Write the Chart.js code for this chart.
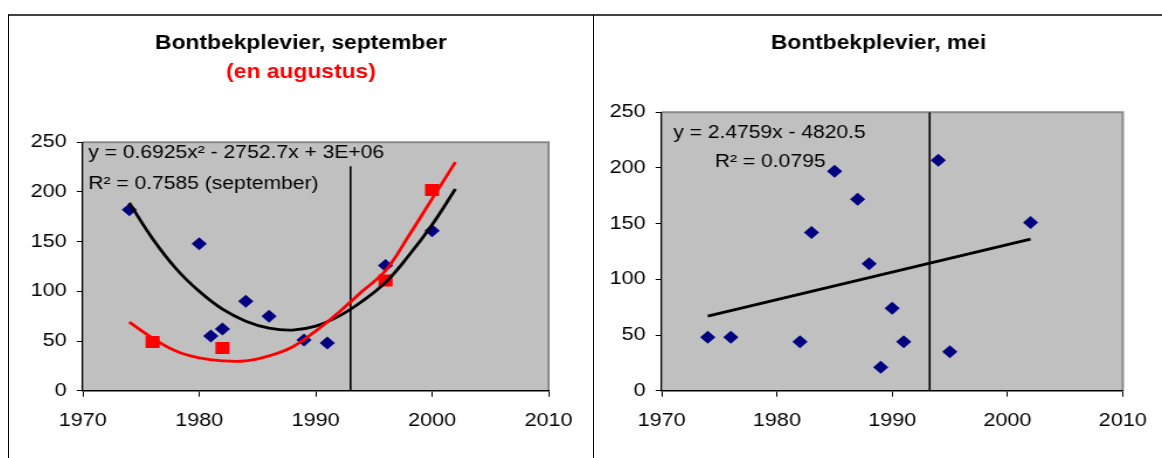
<!DOCTYPE html>
<html>
<head>
<meta charset="utf-8">
<script src="https://cdn.jsdelivr.net/npm/chart.js@4.4.1/dist/chart.umd.min.js"></script>
<style>
  html, body { margin: 0; padding: 0; background: #fff; }
  body { width: 1162px; height: 458px; position: relative; overflow: hidden; }
  .rule-top { position: absolute; left: 8px; top: 14px; width: 1154px; height: 2px; background: #404040; }
  .rule-v { position: absolute; top: 15px; width: 1px; height: 443px; background: #000; }
  canvas { position: absolute; top: 17px; }
</style>
</head>
<body>
<div class="rule-top"></div>
<div class="rule-v" style="left:8px"></div>
<div class="rule-v" style="left:593px"></div>
<!-- drawn narrow and widened by css, like the Excel export -->
<canvas id="sepChart" width="499" height="441" style="left:9px;width:584px;height:441px"></canvas>
<canvas id="meiChart" width="485" height="441" style="left:595px;width:567px;height:441px"></canvas>
<script>
// September counts (blue diamonds) and August counts (red squares)
const sepYears  = [1974, 1980, 1981, 1982, 1984, 1986, 1989, 1991, 1996, 2000];
const sepCounts = [182, 148, 55, 62, 90, 75, 51, 48, 126, 161];
const augYears  = [1976, 1982, 1996, 2000];
const augCounts = [49, 43, 111, 202];

// polynomial trendlines, sampled along the curves
const curveYears = [1974, 1976, 1978, 1980, 1982, 1984, 1986, 1988, 1990, 1992, 1994, 1996, 1998, 2000, 2002];
const sepTrend   = [189, 153, 123, 100, 82, 70, 63, 61, 65, 75, 90, 109, 136, 167, 203];
const augTrend   = [69, 53, 40, 33, 30, 30, 35, 44, 60, 79, 100, 121, 156, 193, 230];

// May counts
const meiYears  = [1974, 1976, 1982, 1983, 1985, 1987, 1988, 1989, 1990, 1991, 1994, 1995, 2002];
const meiCounts = [48, 48, 44, 142, 197, 172, 114, 21, 74, 44, 207, 35, 151];
const meiTrendYears = [1974, 2002];
const meiTrend      = [66.9, 136.2];

// vertical marker lines
const sepMarkerYear = 1993;
const sepMarkerTop  = 226;
const meiMarkerYear = 1993.25;
const meiMarkerTop  = 250;

const sepEquation = ['y = 0.6925x\u00B2 - 2752.7x + 3E+06', 'R\u00B2 = 0.7585 (september)'];
const meiEquation = ['y = 2.4759x - 4820.5', 'R\u00B2 = 0.0795'];

const FONT = "'Liberation Sans', Arial, sans-serif";
Chart.defaults.font.family = FONT;
Chart.defaults.color = '#000';

const pts = (xs, ys) => xs.map((x, i) => ({ x, y: ys[i] }));

const plotBackground = {
    id: 'plotBackground',
    beforeDraw(chart) {
        const { ctx, chartArea: a } = chart;
        ctx.save();
        ctx.fillStyle = '#c0c0c0';
        ctx.fillRect(a.left, a.top, a.width, a.height);
        ctx.strokeStyle = '#8a8a8a';
        ctx.lineWidth = 2;
        ctx.beginPath();
        ctx.moveTo(a.left, a.top);
        ctx.lineTo(a.right, a.top);
        ctx.lineTo(a.right, a.bottom);
        ctx.stroke();
        ctx.restore();
    },
};

const equationText = {
    id: 'equationText',
    afterDatasetsDraw(chart, args, opts) {
        const { ctx, chartArea: a } = chart;
        ctx.save();
        ctx.font = `18px ${FONT}`;
        ctx.fillStyle = '#000';
        ctx.textBaseline = 'alphabetic';
        opts.lines.forEach(l => ctx.fillText(l.text, a.left + l.dx, a.top + l.dy));
        ctx.restore();
    },
};

// yWidth: room for the tick labels; rightGap: empty strip right of the plot
function axes(yWidth, rightGap) {
    return {
        x: {
            type: 'linear', min: 1970, max: 2010,
            ticks: { stepSize: 10, font: { size: 18.5 }, padding: 13, maxRotation: 0, callback: v => String(v) },
            grid: { drawOnChartArea: false, tickLength: 6, tickColor: '#000', tickWidth: 1 },
            border: { color: '#000', width: 1.5 },
            afterFit: s => { s.height = 67.3; },
        },
        y: {
            min: 0, max: 250,
            ticks: { stepSize: 50, font: { size: 18.5 }, padding: 8.5 },
            grid: { drawOnChartArea: false, tickLength: 5.1, tickColor: '#000', tickWidth: 1 },
            border: { color: '#000', width: 1.3 },
            afterFit: s => { s.width = yWidth; },
        },
        gap: {
            position: 'right', min: 0, max: 1,
            ticks: { display: false },
            grid: { display: false },
            border: { display: false },
            afterFit: s => { s.width = rightGap; },
        },
    };
}

function trend(data, color, width) {
    return { data, showLine: true, borderColor: color, borderWidth: width, pointRadius: 0, tension: 0.4 };
}

function marks(data, style, radius, color) {
    return { data, pointStyle: style, pointRadius: radius, backgroundColor: color, borderColor: color, borderWidth: 0 };
}

const titleFont = { size: 19.5, weight: 'bold' };

new Chart(document.getElementById('sepChart'), {
    type: 'scatter',
    data: {
        datasets: [
            trend(pts(curveYears, augTrend), '#ff0000', 2.8),
            trend(pts(curveYears, sepTrend), '#000', 2.8),
            trend([{ x: sepMarkerYear, y: 0 }, { x: sepMarkerYear, y: sepMarkerTop }], '#000', 1.6),
            marks(pts(augYears, augCounts), 'rect', 8.5, '#ff0000'),
            marks(pts(sepYears, sepCounts), 'rectRot', 6.5, '#000080'),
        ],
    },
    options: {
        responsive: false,
        devicePixelRatio: 1,
        animation: false,
        events: [],
        layout: { padding: 0 },
        scales: axes(63, 38),
        plugins: {
            legend: { display: false },
            tooltip: { enabled: false },
            title: { display: true, text: 'Bontbekplevier, september', font: titleFont, color: '#000', padding: { top: 14.8, bottom: 3 } },
            subtitle: { display: true, text: '(en augustus)', font: titleFont, color: '#ff0000', padding: { top: 2.9, bottom: 57.8 } },
            equationText: { lines: [
                { text: sepEquation[0], dx: 4.8, dy: 16 },
                { text: sepEquation[1], dx: 4.8, dy: 47 },
            ] },
        },
    },
    plugins: [plotBackground, equationText],
});

new Chart(document.getElementById('meiChart'), {
    type: 'scatter',
    data: {
        datasets: [
            trend(pts(meiTrendYears, meiTrend), '#000', 2.8),
            trend([{ x: meiMarkerYear, y: 0 }, { x: meiMarkerYear, y: meiMarkerTop }], '#000', 1.6),
            marks(pts(meiYears, meiCounts), 'rectRot', 6.5, '#000080'),
        ],
    },
    options: {
        responsive: false,
        devicePixelRatio: 1,
        animation: false,
        events: [],
        layout: { padding: 0 },
        scales: axes(57, 29),
        plugins: {
            legend: { display: false },
            tooltip: { enabled: false },
            title: { display: true, text: 'Bontbekplevier, mei', font: titleFont, color: '#000', padding: { top: 14.8, bottom: 57.1 } },
            equationText: { lines: [
                { text: meiEquation[0], dx: 9.9, dy: 26 },
                { text: meiEquation[1], dx: 45.6, dy: 54.4 },
            ] },
        },
    },
    plugins: [plotBackground, equationText],
});
</script>
</body>
</html>
